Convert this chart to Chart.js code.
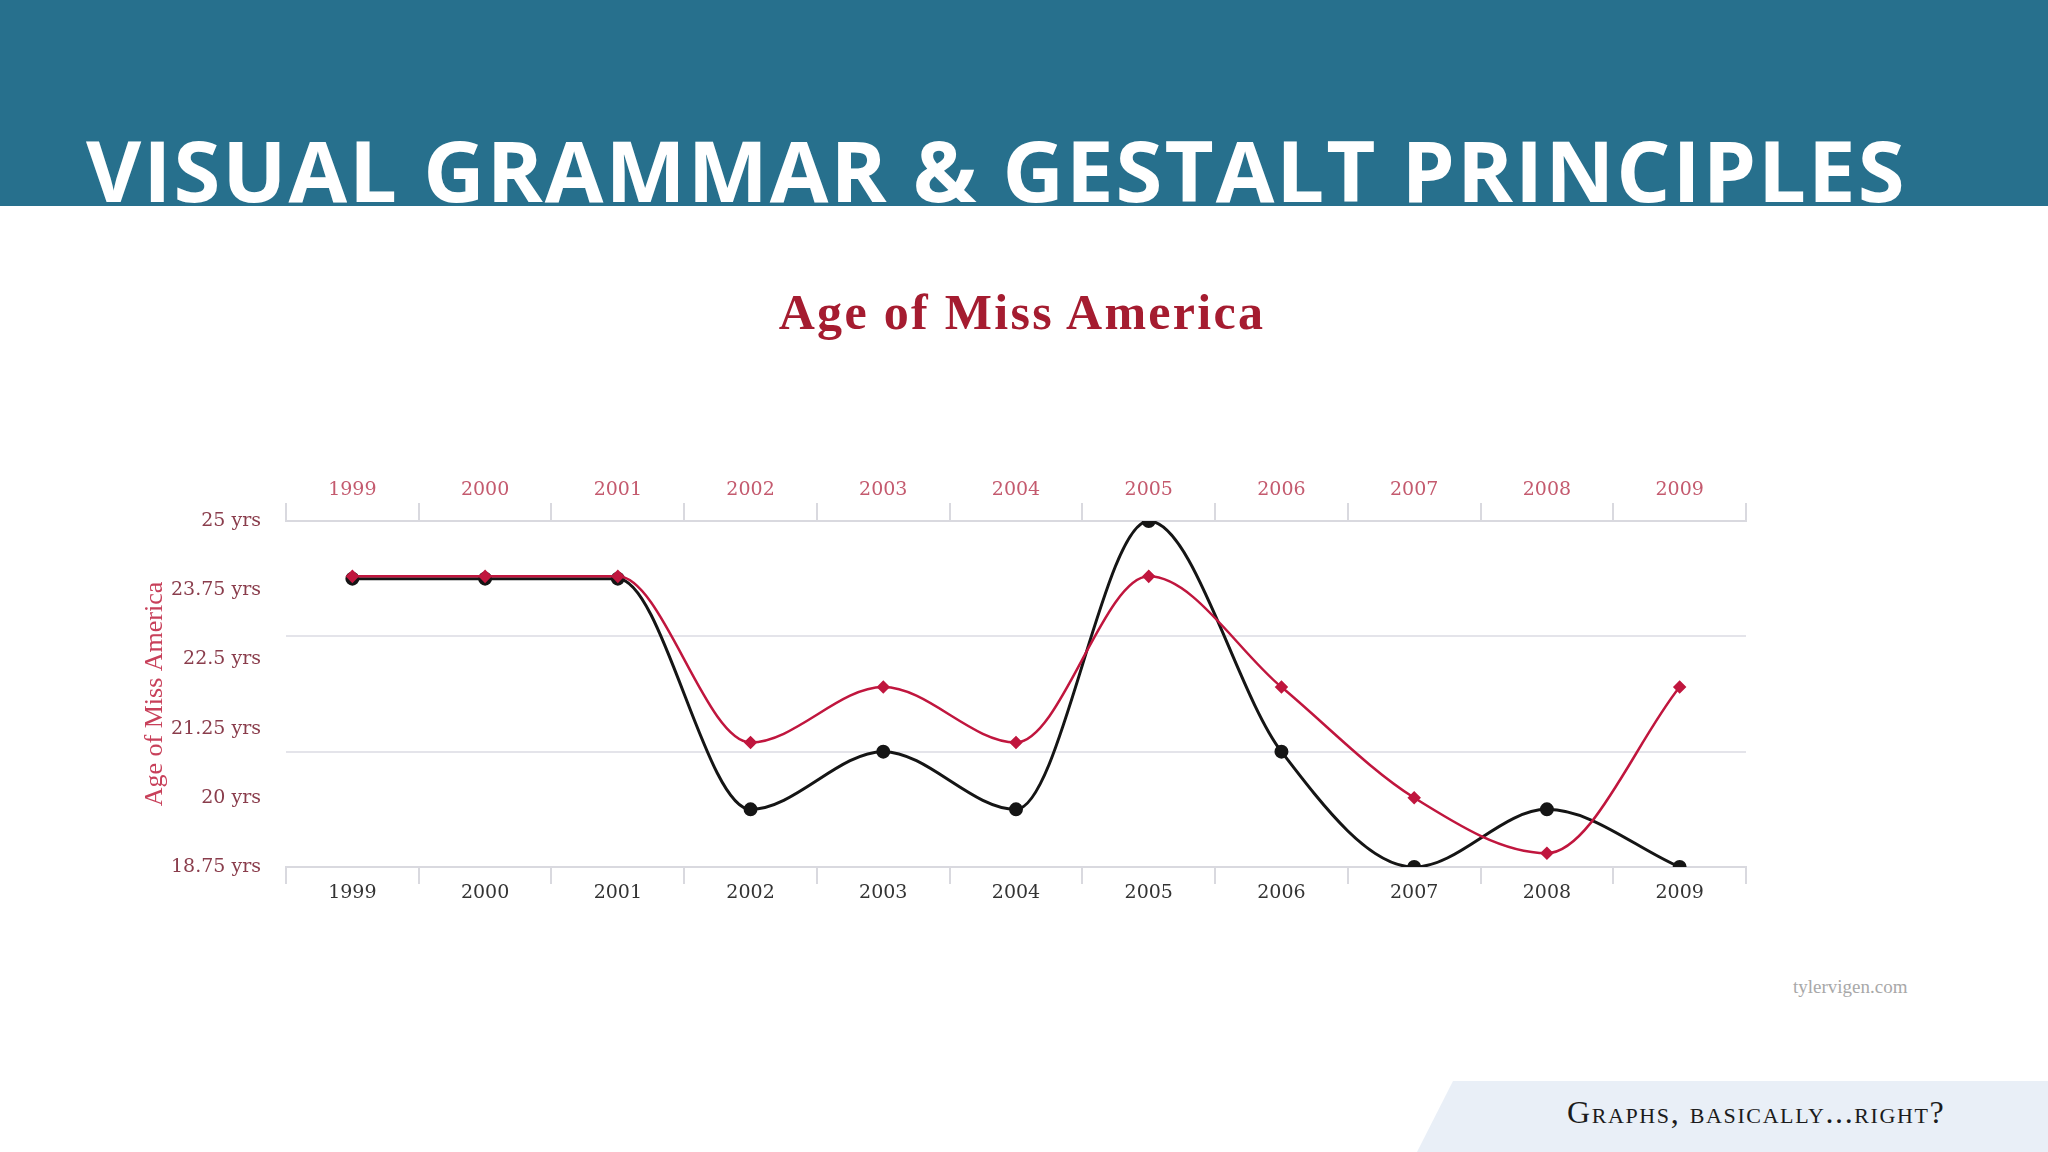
<!DOCTYPE html>
<html>
<head>
<meta charset="utf-8">
<script src="https://cdn.jsdelivr.net/npm/chart.js@4.4.1/dist/chart.umd.min.js"></script>
<style>
  html, body { margin: 0; padding: 0; background: #ffffff; }
  body { width: 2048px; height: 1152px; position: relative; overflow: hidden; }
  .band {
    position: absolute; left: 0; top: 0; width: 2048px; height: 206px;
    background: #27708d;
  }
  .slide-title {
    position: absolute; left: 86px; top: 119px;
    font-family: 'Open Sans', sans-serif; font-weight: 700;
    font-size: 85px; line-height: 100px; color: #ffffff;
    white-space: nowrap; letter-spacing: 2px;
  }
  .chart-title {
    position: absolute; left: 0; width: 2044px; top: 283px; text-align: center;
    font-family: 'Liberation Serif', serif; font-weight: 700;
    font-size: 50px; color: #a51c30; letter-spacing: 2.3px;
  }
  .watermark {
    position: absolute; left: 1793px; top: 976px;
    font-family: 'Liberation Serif', serif; font-size: 19px; color: #a8a8a8;
  }
  .footer {
    position: absolute; left: 1417px; top: 1081px; width: 700px; height: 71px;
    background: #e9eff7;
    clip-path: polygon(36px 0, 100% 0, 100% 100%, 0 100%);
  }
  .footer-text {
    position: absolute; left: 1567px; top: 1094px;
    font-family: 'Liberation Serif', serif; font-size: 32px; color: #1c1c1c;
    font-variant: small-caps; white-space: nowrap; letter-spacing: 1.6px;
  }
  #wrap { position: absolute; left: 100px; top: 440px; width: 1700px; height: 500px; }
</style>
</head>
<body>
<div class="band"></div>
<div class="slide-title">VISUAL GRAMMAR &amp; GESTALT PRINCIPLES</div>
<div class="chart-title">Age of Miss America</div>
<div id="wrap"><canvas id="missChart"></canvas></div>
<div class="watermark">tylervigen.com</div>
<div class="footer"></div>
<div class="footer-text">Graphs, basically...right?</div>

<script>
const years = ['1999', '2000', '2001', '2002', '2003', '2004', '2005', '2006', '2007', '2008', '2009'];
const missAmericaAge = [24, 24, 24, 21, 22, 21, 24, 22, 20, 19, 22];
const murdersBySteam = [7, 7, 7, 3, 4, 3, 8, 4, 2, 3, 2];
const ageTicks = [18.75, 20, 21.25, 22.5, 23.75, 25];
const steamTicks = [2, 4, 6, 8];

const SERIF = 'DejaVu Serif, serif';
const AXIS_GREY = '#d9d9df';

function fixSize(prop, px) {
    return (scale) => { scale[prop] = px; };
}

const ctx = document.getElementById('missChart').getContext('2d');

new Chart(ctx, {
    type: 'line',
    data: {
        labels: years,
        datasets: [{
            label: 'Age of Miss America',
            data: missAmericaAge,
            borderColor: '#c0163e',
            backgroundColor: '#c0163e',
            borderWidth: 2.5,
            pointStyle: 'rectRot',
            pointRadius: 5,
            cubicInterpolationMode: 'monotone',
            xAxisID: 'x',
            yAxisID: 'y'
        }, {
            label: 'Murders by steam, hot vapours and hot objects',
            data: murdersBySteam,
            borderColor: '#151515',
            backgroundColor: '#151515',
            borderWidth: 3,
            pointStyle: 'circle',
            pointRadius: 5.5,
            cubicInterpolationMode: 'monotone',
            xAxisID: 'x',
            yAxisID: 'y2'
        }]
    },
    options: {
        responsive: true,
        maintainAspectRatio: false,
        animation: false,
        layout: { padding: 0 },
        plugins: {
            legend: { display: false },
            tooltip: { enabled: false }
        },
        scales: {
            x: {
                position: 'bottom',
                offset: true,
                grid: {
                    offset: true,
                    drawOnChartArea: false,
                    color: AXIS_GREY,
                    lineWidth: 2,
                    tickLength: 17
                },
                border: { color: AXIS_GREY, width: 2 },
                ticks: {
                    color: '#333333',
                    font: { family: SERIF, size: 19 },
                    padding: -2,
                    maxRotation: 0
                },
                afterFit: fixSize('height', 73)
            },
            x2: {
                type: 'category',
                position: 'top',
                offset: true,
                grid: {
                    offset: true,
                    drawOnChartArea: false,
                    color: AXIS_GREY,
                    lineWidth: 2,
                    tickLength: 18
                },
                border: { color: AXIS_GREY, width: 2 },
                ticks: {
                    color: '#c45a6e',
                    font: { family: SERIF, size: 19 },
                    padding: 2,
                    maxRotation: 0
                },
                afterFit: fixSize('height', 81)
            },
            y: {
                position: 'left',
                min: 18.75,
                max: 25,
                afterBuildTicks: (scale) => {
                    scale.ticks = ageTicks.map(v => ({ value: v }));
                },
                grid: { display: false, drawTicks: false },
                border: { display: false },
                ticks: {
                    color: '#8a3d4c',
                    font: { family: SERIF, size: 19 },
                    padding: 25,
                    callback: (value) => `${value} yrs`
                },
                title: {
                    display: true,
                    text: 'Age of Miss America',
                    color: '#c8405a',
                    font: { family: 'Liberation Serif, serif', size: 26 },
                    padding: { top: 40, bottom: 0 }
                },
                afterFit: fixSize('width', 186)
            },
            y2: {
                position: 'right',
                min: 2,
                max: 8,
                afterBuildTicks: (scale) => {
                    scale.ticks = steamTicks.map(v => ({ value: v }));
                },
                grid: {
                    color: '#e4e4ea',
                    lineWidth: 2,
                    drawTicks: false
                },
                border: { display: false },
                ticks: { display: false },
                afterFit: fixSize('width', 54)
            }
        }
    }
});
</script>
</body>
</html>
